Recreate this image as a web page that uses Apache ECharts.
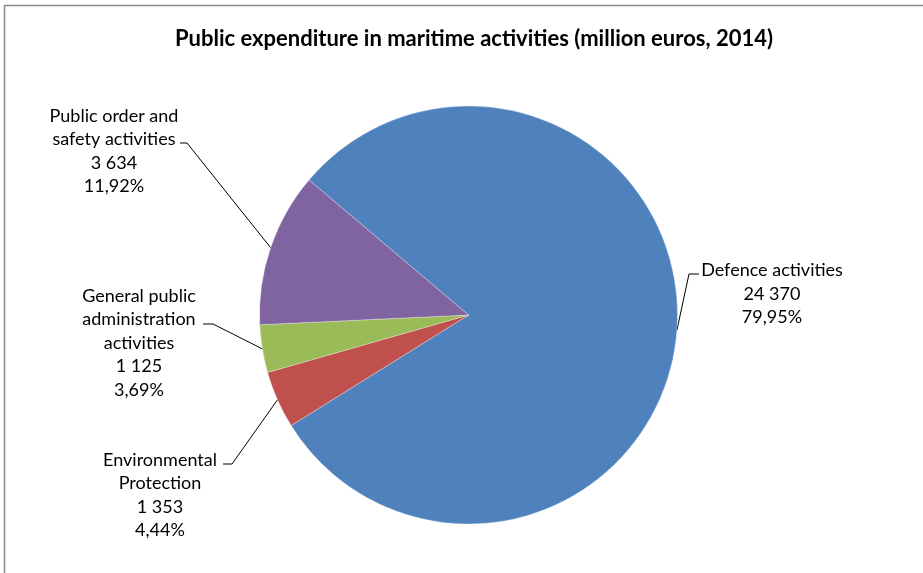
<!DOCTYPE html>
<html>
<head>
<meta charset="utf-8">
<script src="https://cdn.jsdelivr.net/npm/echarts@6/dist/echarts.min.js"></script>
<style>
  html, body { margin: 0; padding: 0; background: #fff; }
  #chart { width: 923px; height: 573px; }
</style>
</head>
<body>
<div id="chart"></div>
<script>
// Public expenditure in maritime activities, 2014 (million euros)
const categories = [
  'Defence activities',
  'Environmental\nProtection',
  'General public\nadministration\nactivities',
  'Public order and\nsafety activities'
];
const values = [24370, 1353, 1125, 3634];
const sliceColors = ['#4F81BD', '#C0504D', '#9BBB59', '#8064A2'];

// Label block placement: centre of text block, leader line row, bend and end of the leader
const labelPlacement = [
  { x: 772, y: 294, lineY: 274, bendX: 689, endX: 699, align: 'center' },
  { x: 160, y: 495, lineY: 464, bendX: 232, endX: 223, align: 'center' },
  { x: 139, y: 343, lineY: 324, bendX: 213, endX: 203, align: 'center' },
  { x: 114, y: 151, lineY: 143, bendX: 187, endX: 180, align: 'center' }
];

const total = values.reduce((a, b) => a + b, 0);
const fmtThousands = v => String(v).replace(/\B(?=(\d{3})+(?!\d))/g, ' ');
const fmtPercent = v => (v / total * 100).toFixed(2).replace('.', ',') + '%';

const chart = echarts.init(document.getElementById('chart'), null, { renderer: 'canvas' });

chart.setOption({
  backgroundColor: '#ffffff',
  animation: false,
  title: {
    text: 'Public expenditure in maritime activities (million euros, 2014)',
    left: 469,
    top: 23,
    textAlign: 'center',
    textStyle: {
      fontFamily: 'Lato',
      fontWeight: 'bold',
      fontSize: 22,
      color: '#000'
    }
  },
  graphic: [{
    type: 'rect',
    shape: { x: 4.5, y: 5.5, width: 1000, height: 1000 },
    style: { fill: 'none', stroke: '#8c8c8c', lineWidth: 1.5 },
    silent: true
  }],
  series: [{
    type: 'pie',
    center: [468.5, 315],
    radius: 209,
    startAngle: 139.75,
    clockwise: true,
    itemStyle: { borderColor: '#ffffff', borderWidth: 0.3 },
    data: categories.map((name, i) => ({
      name: name,
      value: values[i],
      itemStyle: { color: sliceColors[i] }
    })),
    label: {
      show: true,
      position: 'outside',
      fontFamily: 'Lato',
      fontSize: 18,
      lineHeight: 23.5,
      color: '#000',
      align: 'center',
      formatter: p => p.name + '\n' + fmtThousands(p.value) + '\n' + fmtPercent(p.value)
    },
    labelLine: {
      show: true,
      length: 15,
      length2: 10,
      lineStyle: { color: '#000', width: 1 }
    }
  }]
});

chart.setOption({
  series: [{
    labelLayout: function (params) {
      const pl = labelPlacement[params.dataIndex];
      const start = params.labelLinePoints ? params.labelLinePoints[0] : null;
      const out = {
        x: pl.x,
        y: pl.y,
        align: pl.align,
        verticalAlign: 'middle'
      };
      if (start) {
        out.labelLinePoints = [
          [start[0], start[1]],
          [pl.bendX, pl.lineY],
          [pl.endX, pl.lineY]
        ];
      }
      return out;
    }
  }]
});
</script>
</body>
</html>
